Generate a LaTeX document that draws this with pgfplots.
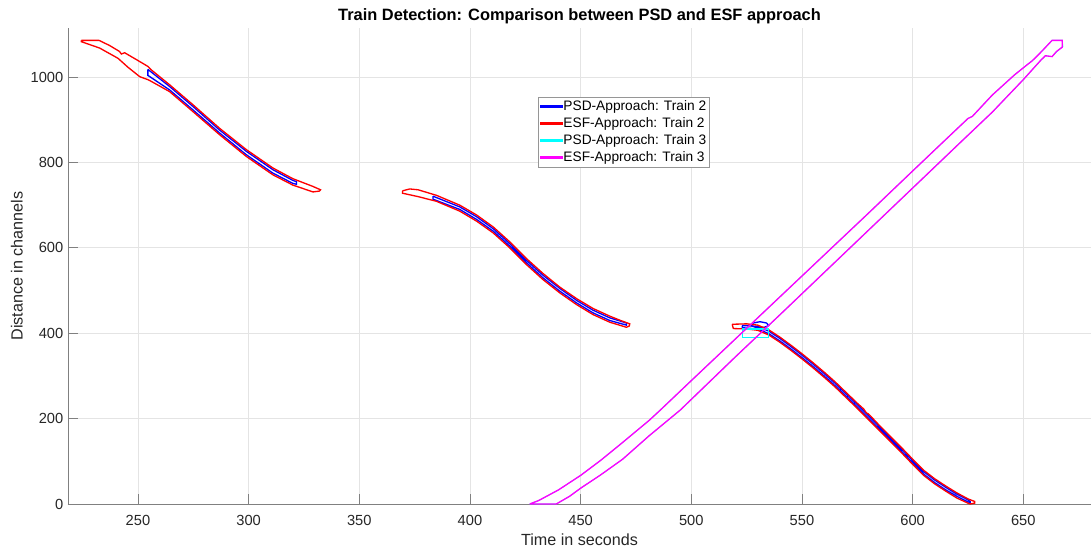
\documentclass[border=0pt]{standalone}
\usepackage{fontspec}
\setmainfont{Liberation Sans}
\usepackage{pgfplots}
\pgfplotsset{compat=1.18}
\definecolor{axgray}{RGB}{128,128,128}
\definecolor{txt}{RGB}{38,38,38}
\definecolor{gridc}{RGB}{228,228,228}
\definecolor{lgbox}{RGB}{150,150,150}
\definecolor{cR}{RGB}{255,0,0}
\definecolor{cB}{RGB}{0,0,255}
\definecolor{cC}{RGB}{0,255,255}
\definecolor{cM}{RGB}{255,0,255}
\begin{document}
\begin{tikzpicture}[x=1pt,y=1pt]
\path[use as bounding box] (-51,-37.5) rectangle (767.25,378);
\begin{axis}[
  at={(0,0)}, anchor=south west,
  scale only axis, width=767.25pt, height=357pt,
  xmin=218.4, xmax=680.6, ymin=0, ymax=1115,
  axis x line*=bottom, axis y line*=left,
  axis line style={axgray, line width=0.6pt},
  xtick={250,300,...,650}, ytick={0,200,...,1000},
  tick align=inside, major tick length=7.5pt,
  tick style={axgray, line width=0.6pt},
  grid=major, major grid style={gridc, line width=0.6pt},
  /pgf/number format/assume math mode=true,
  /pgf/number format/1000 sep={},
  tick label style={font=\fontsize{11}{13}\selectfont, text=txt},
  xticklabel style={anchor=base, yshift=-16.3pt},
  label style={font=\fontsize{12.1}{14}\selectfont, text=txt},
  xlabel={Time in seconds},
  ylabel={Distance in channels},
  xlabel style={at={(axis description cs:0.5,-0.0756)}, anchor=center},
  ylabel style={at={(axis description cs:-0.0499,0.5)}, anchor=center},
  every axis title shift=0pt,
  title={\bfseries Train Detection: Comparison between PSD and ESF approach},
  title style={at={(axis description cs:0.5,1.0252)}, anchor=center, font=\fontsize{12.3}{14}\selectfont, text=black},
  legend style={at={(axis description cs:0.459,0.855)}, anchor=north west,
    draw=lgbox, font=\fontsize{10.3}{12}\selectfont,
    inner xsep=1.5pt, inner ysep=1pt, row sep=0.8pt,
    nodes={inner xsep=0.5pt, inner ysep=1.5pt}},
  legend cell align=left,
  legend image code/.code={\fill[#1] (0pt,-0.55pt) rectangle (16.2pt,0.55pt);},
  every axis plot/.append style={line width=1pt},
]
% ---------- PSD Train 2 (blue) ----------
\addplot[color=cB] coordinates {
(254.5,1018) (264.3,978) (274.9,931) (286.9,876) (299,826) (311,783) (320,758) (321.6,755)
(321.6,749) (320,751) (311,775) (299,818) (286.9,869) (274.9,923) (264.3,970) (254.5,1004) (254.5,1018)};
\addlegendentry{PSD-Approach: Train 2}
\addplot[color=cB, forget plot] coordinates {
(383.3,721) (395.4,696) (403,673) (410.5,645) (418,610) (425.5,571) (433,536) (440.6,505)
(448.2,477) (455.6,454) (463.2,436) (470.7,424) (470.7,419) (463.2,429.8) (455.6,447.7)
(448.2,471) (440.6,498.5) (433,529.7) (425.5,565) (418,604) (410.5,639) (403,666.6)
(395.4,690) (383.3,714) (383.3,721)};
\addplot[color=cB, forget plot] coordinates {
(523,418) (530,416) (535,405) (540,388) (545,369) (550,349) (555,328) (560,306) (565,283)
(570,258) (575,233) (580,207) (585,181) (590,155) (595,129) (600,102) (605,76) (610,56)
(615,39) (620,23) (625,10) (626,6)
(626,3) (625,5) (620,18) (615,33) (610,50) (605,70) (600,96) (595,123) (590,149) (585,175)
(580,201) (575,227) (570,252) (565,277) (560,300) (555,322) (550,343) (545,363) (540,382)
(535,399) (530,410) (523,413) (523,418)};
\addplot[color=cB, forget plot] coordinates {
(527,418) (528,424) (531,427) (534,424) (535,418) (533,414) (529,414) (527,418)};
% ---------- ESF Train 2 (red) ----------
\addplot[color=cR] coordinates {
(224.4,1086) (232.4,1086) (237.2,1074) (241.7,1060) (242.5,1054) (244,1057) (249.3,1041)
(254.5,1025) (256,1017) (264.3,982) (274.9,935) (286.9,880) (299,830) (311,787) (320,762)
(325,752) (329,744) (332.5,736) (332,733) (329.1,731) (320,747) (311,771) (299,814)
(286.9,865) (274.9,919) (264.3,966) (256,990) (254.5,994) (250.8,1001) (245.5,1023)
(241,1044) (232.7,1068) (224.4,1083) (224.4,1086)};
\addlegendentry{ESF-Approach: Train 2}
\addplot[color=cR, forget plot] coordinates {
(369.5,733.5) (372.8,738) (376.6,736) (384.9,723) (395.4,700) (403,677) (410.5,649) (418,614)
(425.5,575) (433,540) (440.6,508) (448.2,481) (455.6,458) (463.2,440) (468,430) (472.2,422)
(472,417) (470.7,414) (463.2,425.8) (455.6,443.7) (448.2,467) (440.6,494.5) (433,525.7)
(425.5,561) (418,600) (410.5,635) (403,662.6) (395.4,686) (384.9,709) (376.6,720)
(371.3,726) (369.5,728) (369.5,733.5)};
\addplot[color=cR, forget plot] coordinates {
(518.5,421) (525,422) (530,419) (535,408) (540,391) (545,372) (550,352) (555,331) (560,309)
(565,286) (570,261) (575,236) (578,222) (579,214) (580,211) (581,206) (585,184) (590,158)
(595,132) (600,105) (605,79) (610,59) (615,42) (620,26) (625,12) (628,6) (628,2)
(626,0) (625,2) (620,14) (615,30) (610,47) (605,67) (600,93) (595,120) (590,146) (585,172)
(580,198) (575,224) (570,249) (565,274) (560,297) (555,319) (550,340) (545,360) (540,379)
(535,396) (530,407) (525,410) (519,411) (518.5,421)};
% ---------- PSD Train 3 (cyan) ----------
\addplot[color=cC, line width=0.6pt] coordinates {
(427,0) (431,8) (440,33) (450,67) (459,102) (468,140) (481,196) (486,220) (500,289)
(520,387) (540,485) (560,583) (580,681) (600,780) (614,849) (625,903) (627,908) (636,958)
(646,1005) (652,1030) (654,1038) (656,1048) (659,1064) (663,1086) (667.6,1086)
(667.9,1072) (665.2,1060) (663,1048) (660,1050) (658,1040) (650,994) (636,918) (622,849)
(600,740) (580,641) (560,542) (540,443) (520,345) (495,220) (481,160) (469,105) (459,68)
(450,37) (445,18) (439,0) (427,0)};
\addlegendentry{PSD-Approach: Train 3}
\addplot[color=cC, forget plot] coordinates {
(523,390) (535,390) (535,410) (523,410) (523,390)};
% ---------- ESF Train 3 (magenta) ----------
\addplot[color=cM] coordinates {
(427,0) (431,8) (440,33) (450,67) (459,102) (468,140) (481,196) (486,220) (500,289)
(520,387) (540,485) (560,583) (580,681) (600,780) (614,849) (625,903) (627,908) (636,958)
(646,1005) (652,1030) (654,1038) (656,1048) (659,1064) (663,1086) (667.6,1086)
(667.6,1070) (665,1060) (663,1048) (660,1050) (658,1040) (650,994) (636,918) (622,849)
(600,740) (580,641) (560,542) (540,443) (520,345) (495,220) (481,160) (469,105) (459,68)
(450,37) (445,18) (439,0) (427,0)};
\addlegendentry{ESF-Approach: Train 3}
\end{axis}
\end{tikzpicture}
\end{document}
